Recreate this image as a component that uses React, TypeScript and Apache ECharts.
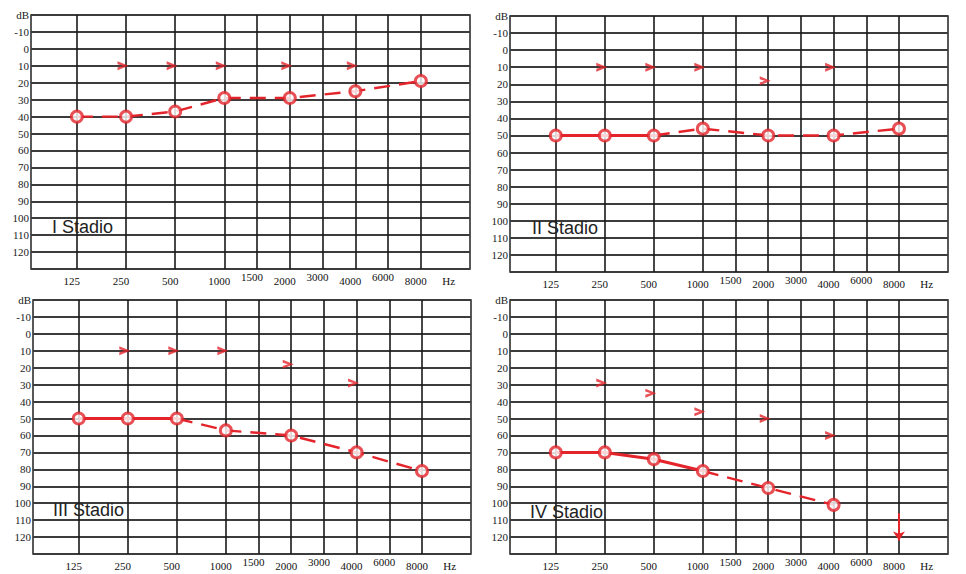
import React, { useEffect, useRef } from "react";
import * as echarts from "echarts";

// ---- audiogram frequency form ----
const freqLabels = ["125", "250", "500", "1000", "1500", "2000", "3000", "4000", "6000", "8000"];
// column slots of the printed audiogram form (octaves 125–1000 are wider than later columns)
const freqSlots = [0, 1.5, 3, 4.5, 5.5, 6.5, 7.5, 8.5, 9.5, 10.5];
const mainFreqs = ["125", "250", "500", "1000", "2000", "4000", "8000"];
const halfFreqs = ["1500", "3000", "6000"];
const unitLabel = "Hz";
const unitSlot = 11.5;

const stageNames = ["I Stadio", "II Stadio", "III Stadio", "IV Stadio"];

// ---- thresholds (dB HL) ----
const airFreqsFull = ["125", "250", "500", "1000", "2000", "4000", "8000"];
const boneFreqs = ["250", "500", "1000", "2000", "4000"];

const stage1Air = [40, 40, 37, 29, 29, 25, 19];
const stage1Bone = [10, 10, 10, 10, 10];

const stage2Air = [50, 50, 50, 46, 50, 50, 46];
const stage2Bone = [10, 10, 10, 18, 10];

const stage3Air = [50, 50, 50, 57, 60, 70, 81];
const stage3Bone = [10, 10, 10, 18, 29];

const stage4AirFreqs = ["125", "250", "500", "1000", "2000", "4000"];
const stage4Air = [70, 70, 74, 81, 91, 101];
const stage4Bone = [29, 35, 46, 50, 60];
const stage4NoResponseFreq = "8000";
const stage4NoResponse = [106, 122];

const RED = "#e3242b";

const slotOf = (f: string) => freqSlots[freqLabels.indexOf(f)];

const labelFor = (v: number) => {
  if (Math.abs(v - unitSlot) < 1e-6) return unitLabel;
  const i = freqSlots.findIndex((s) => Math.abs(s - v) < 1e-6);
  return i >= 0 ? freqLabels[i] : "";
};

export default function App() {
  const ref = useRef<HTMLDivElement>(null);

  useEffect(() => {
    if (!ref.current) return;
    const chart = echarts.init(ref.current, null, { renderer: "svg" });

    const grids = [
      { left: 31, top: 15, width: 439, height: 254 },
      { left: 510, top: 16, width: 438, height: 256 },
      { left: 33, top: 300, width: 438, height: 254 },
      { left: 510, top: 300, width: 438, height: 254 },
    ];
    const textPos = [
      [52, 229],
      [532, 230],
      [53, 512],
      [530, 514],
    ];
    const panels = [
      { airF: airFreqsFull, air: stage1Air, bone: stage1Bone, solidEnd: 0 },
      { airF: airFreqsFull, air: stage2Air, bone: stage2Bone, solidEnd: 2 },
      { airF: airFreqsFull, air: stage3Air, bone: stage3Bone, solidEnd: 2 },
      { airF: stage4AirFreqs, air: stage4Air, bone: stage4Bone, solidEnd: 3 },
    ];

    const xAxis: any[] = [];
    const yAxis: any[] = [];
    const series: any[] = [];
    const graphic: any[] = [];

    const serif = "Liberation Serif, DejaVu Serif, serif";

    panels.forEach((p, i) => {
      xAxis.push({
        type: "value",
        gridIndex: i,
        min: -1.4,
        max: 12,
        axisLine: { show: false },
        axisTick: { show: false, customValues: freqSlots },
        splitLine: { show: true, lineStyle: { color: "#1a1a1a", width: 1.6 } },
        axisLabel: {
          customValues: [...mainFreqs.map(slotOf), unitSlot],
          formatter: (v: number) => labelFor(v),
          fontFamily: serif,
          fontSize: 11,
          color: "#111",
          margin: 6,
          padding: [0, 10, 0, 0],
        },
      });
      xAxis.push({
        type: "value",
        gridIndex: i,
        position: "bottom",
        min: -1.4,
        max: 12,
        axisLine: { show: false },
        axisTick: { show: false },
        splitLine: { show: false },
        axisLabel: {
          customValues: halfFreqs.map(slotOf),
          formatter: (v: number) => labelFor(v),
          fontFamily: serif,
          fontSize: 11,
          color: "#111",
          margin: 2,
          padding: [0, 10, 0, 0],
        },
      });
      yAxis.push({
        type: "value",
        gridIndex: i,
        inverse: true,
        min: -20,
        max: 130,
        interval: 10,
        axisLine: { show: false },
        axisTick: { show: false },
        splitLine: { show: true, lineStyle: { color: "#3c3c3c", width: 2.2 } },
        axisLabel: {
          formatter: (v: number) => (v === -20 ? "dB" : v > 120 ? "" : String(v)),
          fontFamily: serif,
          fontSize: 11,
          color: "#1a1a1a",
          margin: 2,
        },
      });

      const pts = p.airF.map((f, k) => [slotOf(f), p.air[k]]);
      const xi = 2 * i;
      if (p.solidEnd > 0) {
        series.push({
          type: "line",
          xAxisIndex: xi,
          yAxisIndex: i,
          data: pts.slice(0, p.solidEnd + 1),
          symbol: "none",
          lineStyle: { color: RED, width: 3 },
          z: 3,
        });
      }
      series.push({
        type: "line",
        xAxisIndex: xi,
        yAxisIndex: i,
        data: pts.slice(p.solidEnd),
        symbol: "none",
        lineStyle: { color: RED, width: 2.4, type: [16, 9] },
        z: 3,
      });
      series.push({
        type: "scatter",
        xAxisIndex: xi,
        yAxisIndex: i,
        data: pts,
        symbol: "circle",
        symbolSize: 11,
        itemStyle: { color: "#fff", borderColor: RED, borderWidth: 3 },
        z: 5,
      });
      series.push({
        type: "scatter",
        xAxisIndex: xi,
        yAxisIndex: i,
        data: boneFreqs.map((f, k) => [slotOf(f), p.bone[k]]),
        symbol: "path://M0,0 L10,4 L0,8 L0,5.4 L4.8,4 L0,2.6 Z",
        symbolSize: [11, 9],
        symbolOffset: [-3, 0],
        itemStyle: { color: RED },
        z: 5,
      });

      graphic.push({
        type: "text",
        left: textPos[i][0],
        top: textPos[i][1] - 11,
        style: {
          text: stageNames[i],
          font: "18px 'Liberation Sans', Arial, sans-serif",
          fill: "#222",
        },
        z: 10,
      });
    });

    // no-response arrow (stage IV, 8000 Hz)
    series.push({
      type: "line",
      xAxisIndex: 6,
      yAxisIndex: 3,
      data: [],
      markLine: {
        silent: true,
        symbol: ["none", "arrow"],
        symbolSize: 9,
        label: { show: false },
        lineStyle: { color: RED, width: 2, type: "solid" },
        data: [
          [
            { coord: [slotOf(stage4NoResponseFreq), stage4NoResponse[0]] },
            { coord: [slotOf(stage4NoResponseFreq), stage4NoResponse[1]] },
          ],
        ],
      },
    });

    chart.setOption({
      animation: false,
      backgroundColor: "#fff",
      grid: grids.map((g) => ({
        ...g,
        show: true,
        borderColor: "#222",
        borderWidth: 1.5,
        backgroundColor: "transparent",
      })),
      xAxis,
      yAxis,
      series,
      graphic,
    });

    return () => chart.dispose();
  }, []);

  return (
    <div
      ref={ref}
      style={{ position: "absolute", left: 0, top: 0, width: 966, height: 574 }}
    />
  );
}
